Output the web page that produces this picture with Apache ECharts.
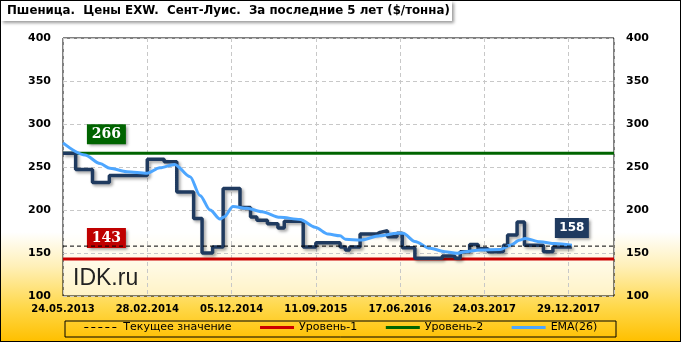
<!DOCTYPE html>
<html>
<head>
<meta charset="utf-8">
<script src="https://cdn.jsdelivr.net/npm/echarts@6/dist/echarts.min.js"></script>
<style>
html,body{margin:0;padding:0;background:#fff;}
#c{width:681px;height:342px;box-sizing:border-box;border:1px solid #000;
background:linear-gradient(to bottom,#ffffff 0%,#ffffff 68%,#fff0b8 78%,#ffd84a 90%,#ffc000 100%);}
</style>
</head>
<body>
<div id="c"></div>
<script>
// ---- data (x = week index from 24.05.2013) ----
const tickLabels = ['24.05.2013','28.02.2014','05.12.2014','11.09.2015','17.06.2016','24.03.2017','29.12.2017'];
const weeksPerTick = 40;
const axisEndWeek = 261.5;

const priceWeeks  = [0,6,14,22,40,48,54,62,66,71,76,84,89,92,97,102,105,114,120,131.5,134,136,141,149,150.5,154,158.5,161,167,180,186,188.5,193,197,201.7,209,211,215.5,219,228,232.5,241.5];
const priceValues = [266,247,232,240,259,256,221,190,150,157,225,203,192,188,184,179,187,157,162,157,153.5,157,172,174,176,169,173,156,144,146.5,144,151.5,160,155,151.5,159,171,186,159,151.5,157,157];

const emaWeeks  = [0,10.4,17.6,22.3,30.4,39.9,46,53,60.3,65,69.8,74.5,76.4,80.7,87.3,94.4,103,112.5,119.6,125.8,131.5,134,141,150.4,158.5,161.4,167,174.2,181.3,187,190.8,198,207.4,212.2,216.9,219.3,226.4,233.5,241.5];
const emaValues = [278,264,254,248.5,244.5,242.7,249,253,238.7,217,200,189.5,192,204,202,198,191.5,189,180,172,170,166,165,170,173,173,163.4,155.4,151.5,149.6,151.5,153.5,154,159,165,167,163,161,159];

const currentValue = 158;
const level1 = 143;
const level2 = 266;
const lastWeek = 241.5;

const seriesNames = ['Текущее значение','Уровень-1','Уровень-2','EMA(26)'];
const legendLineWidths = [1, 3, 3, 3];

// ---- build ----
const pairs = (xs, ys) => xs.map((x, i) => [x, ys[i]]);
const flat = v => [[0, v], [axisEndWeek, v]];

const chart = echarts.init(document.getElementById('c'), null, {renderer: 'canvas'});
const fontSans = 'DejaVu Sans';
const boxShadow = {shadowBlur: 3, shadowColor: 'rgba(0,0,0,0.4)', shadowOffsetX: 2, shadowOffsetY: 2};

chart.setOption({
  animation: false,
  backgroundColor: 'transparent',
  grid: {
    left: 62, right: 66, top: 37, bottom: 45,
    show: true, backgroundColor: 'rgba(255,255,255,0.62)',
    borderColor: '#000', borderWidth: 1
  },
  legend: {
    data: seriesNames.map((n, i) => ({name: n, lineStyle: {width: legendLineWidths[i]}})),
    left: 'center', top: 319,
    padding: [2, 5],
    itemWidth: 34, itemHeight: 12, itemGap: 27,
    itemStyle: {opacity: 0},
    textStyle: {fontFamily: fontSans, fontSize: 11, color: '#000'}
  },
  xAxis: {
    type: 'value', min: 0, max: axisEndWeek, interval: weeksPerTick,
    axisLine: {show: false}, axisTick: {show: false},
    axisLabel: {
      margin: 8, showMaxLabel: false,
      fontFamily: fontSans, fontSize: 10, fontWeight: 'bold', color: '#000',
      formatter: v => (v % weeksPerTick === 0 ? (tickLabels[v / weeksPerTick] || '') : '')
    },
    splitLine: {show: true, lineStyle: {color: '#c8c8c8', type: [4, 3], width: 1}}
  },
  yAxis: [
    {
      type: 'value', min: 100, max: 400, interval: 50, position: 'left',
      axisLine: {show: false}, axisTick: {show: false},
      axisLabel: {margin: 12, fontFamily: fontSans, fontSize: 11, fontWeight: 'bold', color: '#000'},
      splitLine: {show: true, lineStyle: {color: '#c8c8c8', type: [4, 3], width: 1}}
    },
    {
      type: 'value', min: 100, max: 400, interval: 50, position: 'right',
      axisLine: {show: false}, axisTick: {show: false},
      axisLabel: {margin: 12, fontFamily: fontSans, fontSize: 11, fontWeight: 'bold', color: '#000'},
      splitLine: {show: false}
    }
  ],
  graphic: [
    {
      type: 'group', left: 0, top: 0, z: 100,
      children: [
        {type: 'rect', shape: {x: 3, y: 5, width: 451, height: 20},
         style: Object.assign({fill: '#fff'}, boxShadow)},
        {type: 'text', x: 9, y: 15,
         style: {text: 'Пшеница.  Цены EXW.  Сент-Луис.  За последние 5 лет ($/тонна)', fill: '#000',
                 font: 'bold 11.8px "DejaVu Sans"', verticalAlign: 'middle', align: 'left'}}
      ]
    },
    {type: 'text', left: 72, top: 266, z: 5,
     style: {text: 'IDK.ru', fill: '#222', font: '23px "Liberation Sans"'}},
    {type: 'rect', shape: {x: 64, y: 320, width: 551, height: 16}, z: 1,
     style: {fill: 'none', stroke: '#000', lineWidth: 1}}
  ],
  series: [
    {
      name: 'Уровень-1', type: 'line', data: flat(level1), symbol: 'none', z: 2,
      lineStyle: {color: '#cc0000', width: 3}, itemStyle: {color: '#cc0000'},
      markPoint: {
        symbol: 'rect', symbolSize: [39, 20], symbolOffset: [0, -21],
        itemStyle: Object.assign({color: '#c00000'}, boxShadow),
        label: {show: true, color: '#fff', fontFamily: 'DejaVu Serif', fontWeight: 'bold', fontSize: 14, formatter: '{c}'},
        data: [{coord: [20.6, level1], value: level1}]
      }
    },
    {
      name: 'Уровень-2', type: 'line', data: flat(level2), symbol: 'none', z: 2,
      lineStyle: {color: '#006400', width: 3}, itemStyle: {color: '#006400'},
      markPoint: {
        symbol: 'rect', symbolSize: [39, 20], symbolOffset: [0, -19],
        itemStyle: Object.assign({color: '#006400'}, boxShadow),
        label: {show: true, color: '#fff', fontFamily: 'DejaVu Serif', fontWeight: 'bold', fontSize: 14, formatter: '{c}'},
        data: [{coord: [20.6, level2], value: level2}]
      }
    },
    {
      name: 'Цена', type: 'line', data: pairs(priceWeeks, priceValues), symbol: 'none', step: 'end', z: 3,
      lineStyle: {color: '#1f3a5f', width: 3.5, shadowColor: 'rgba(0,0,0,0.35)', shadowBlur: 3, shadowOffsetX: 2, shadowOffsetY: 2},
      itemStyle: {color: '#1f3a5f'}
    },
    {
      name: 'EMA(26)', type: 'line', data: pairs(emaWeeks, emaValues), symbol: 'none', smooth: 0.3, smoothMonotone: 'x', z: 4,
      lineStyle: {color: '#4da6ff', width: 3}, itemStyle: {color: '#4da6ff'}
    },
    {
      name: 'Текущее значение', type: 'line', data: flat(currentValue), symbol: 'none', z: 5,
      lineStyle: {color: '#000', width: 1, type: [4, 3]}, itemStyle: {color: '#000'},
      markPoint: {
        symbol: 'rect', symbolSize: [34, 20], symbolOffset: [0, -18],
        itemStyle: Object.assign({color: '#1f3a5f'}, boxShadow),
        label: {show: true, color: '#fff', fontFamily: fontSans, fontWeight: 'bold', fontSize: 12, formatter: '{c}'},
        data: [{coord: [lastWeek, currentValue], value: currentValue}]
      }
    }
  ]
});
</script>
</body>
</html>
